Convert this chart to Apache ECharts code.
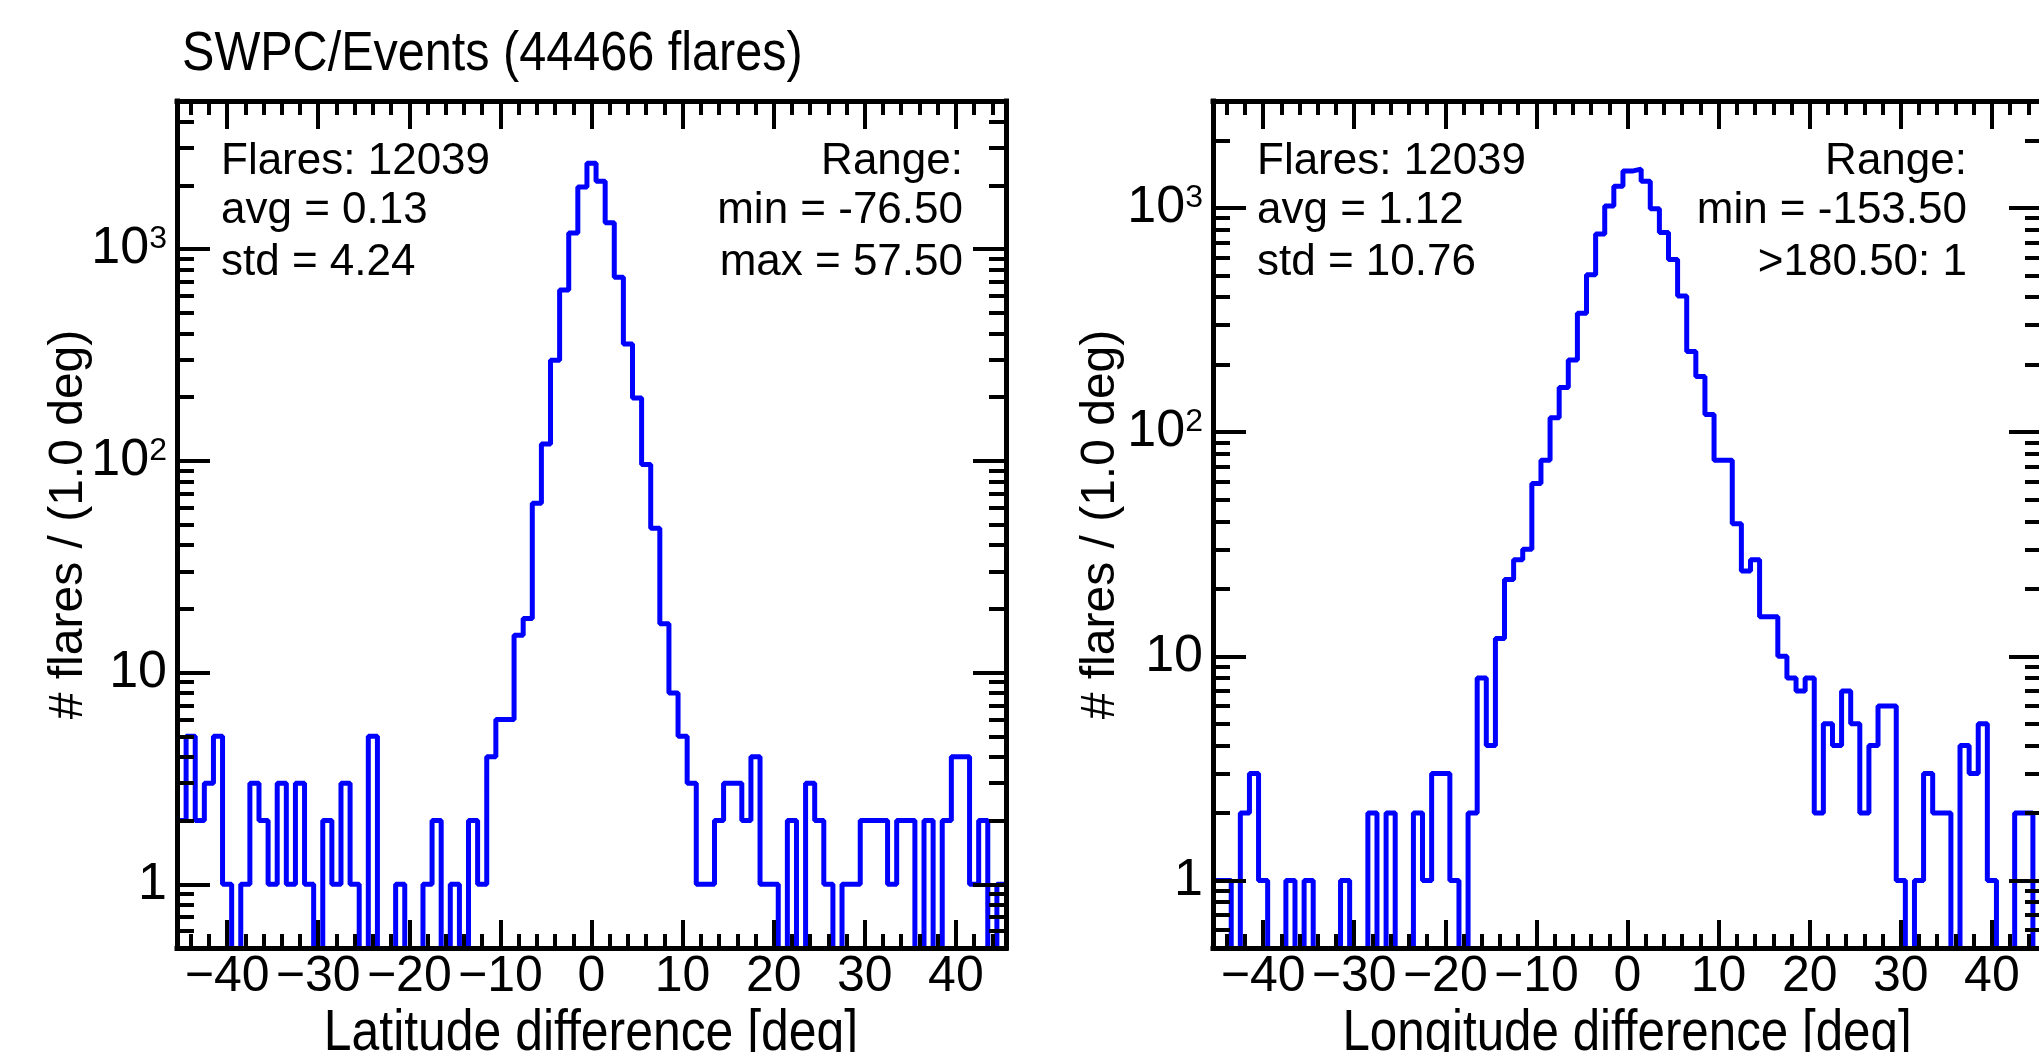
<!DOCTYPE html>
<html lang="en">
<head>
<meta charset="UTF-8" />
<title>SWPC/Events flare position differences</title>
<script src="https://cdn.jsdelivr.net/npm/echarts@6.0.0/dist/echarts.min.js"></script>
<style>
  * { margin: 0; padding: 0; }
  html, body { height: 100%; background: #fff; }
</style>
</head>
<body>
<div id="main" style="width:2039px;height:1052px;"></div>
<script>
// bin centres, 1 deg bins
var binCenters = [-45,-44,-43,-42,-41,-40,-39,-38,-37,-36,-35,-34,-33,-32,-31,-30,-29,-28,-27,-26,
  -25,-24,-23,-22,-21,-20,-19,-18,-17,-16,-15,-14,-13,-12,-11,-10,-9,-8,-7,-6,-5,-4,-3,-2,-1,
  0,1,2,3,4,5,6,7,8,9,10,11,12,13,14,15,16,17,18,19,20,21,22,23,24,25,26,27,28,29,30,
  31,32,33,34,35,36,37,38,39,40,41,42,43,44,45];

// flares per bin, latitude difference
var latCounts = [2,5,2,3,5,1,0,1,3,2, 1,3,1,3,1,0,2,1,3,1, 0,5,0,0,1,0,0,1,2,0,
  1,0,2,1,4,6,6,15,18,63, 120,298,640,1190,1960,
  2540,
  2090,1330,735,356,198,96,48,17,8,5, 3,1,1,2,3,3,2,4,1,1, 0,2,0,3,2,1,0,1,1,2,
  2,2,1,2,2,0,2,0,2,4, 4,1,2,0,1];

// flares per bin, longitude difference
var lonCounts = [1,1,0,2,3,1,0,0,1,0, 1,0,0,0,1,0,0,2,0,2, 0,0,2,1,3,3,1,0,2,8,
  4,12,22,27,30,59,75,116,158,210, 339,504,765,1020,1250,
  1460,
  1490,1316,993,778,589,405,229,177,120,75, 75,39,24,27,15,15,10,8,7,8, 2,5,4,7,5,2,4,6,6,1,
  0,1,3,2,2,0,4,3,5,1, 0,0,2,2,0];

var xMajorTicks = [-40,-30,-20,-10,0,10,20,30,40];
var xMinorTicks = [-44,-42,-38,-36,-34,-32,-28,-26,-24,-22,-18,-16,-14,-12,-8,-6,-4,-2,
  2,4,6,8,12,14,16,18,22,24,26,28,32,34,36,38,42,44];
var yMajorTicks = [1,10,100,1000];
var yMinorTicks = [0.6,0.7,0.8,0.9,2,3,4,5,6,7,8,9,20,30,40,50,60,70,80,90,
  200,300,400,500,600,700,800,900,2000,3000,4000,5000];

var latStats = ['Flares: 12039', 'avg = 0.13', 'std = 4.24'];
var latRange = ['Range:', 'min = -76.50', 'max = 57.50'];
var lonStats = ['Flares: 12039', 'avg = 1.12', 'std = 10.76'];
var lonRange = ['Range:', 'min = -153.50', '>180.50: 1'];

var FONT = '"Liberation Sans", Arial, sans-serif';

// empty bins are pushed below the axis floor so the step drops out of the frame
function stepData(counts) {
  var pts = [];
  for (var i = 0; i < binCenters.length; i++) {
    pts.push([binCenters[i] - 0.5, counts[i] > 0 ? counts[i] : 0.05]);
  }
  var last = binCenters.length - 1;
  pts.push([binCenters[last] + 0.5, counts[last] > 0 ? counts[last] : 0.05]);
  return pts;
}

function fmtX(v) {
  return v < 0 ? '\u2212' + Math.abs(v) : String(v);
}
function fmtY(v) {
  var e = Math.round(Math.log(v) / Math.LN10);
  if (e === 0) return '{b|1}';
  if (e === 1) return '{b|10}';
  return '{b|10}{s|' + e + '}';
}

var frameLine = { color: '#000', width: 5, cap: 'square' };
var tickLine = { color: '#000', width: 4 };

function makeXAxes(gi) {
  function ax(o) {
    return Object.assign({
      gridIndex: gi, type: 'value', min: -45.5, max: 45.5,
      splitLine: { show: false }, z: 5, silent: true
    }, o);
  }
  return [
    ax({
      position: 'bottom',
      axisLine: { onZero: false, lineStyle: frameLine },
      axisTick: { inside: true, length: 28, customValues: xMajorTicks, lineStyle: tickLine },
      axisLabel: { customValues: xMajorTicks, formatter: fmtX, fontFamily: FONT,
        fontSize: 50, color: '#000', margin: 4 }
    }),
    ax({
      position: 'bottom', axisLine: { show: false, onZero: false },
      axisTick: { inside: true, length: 14, customValues: xMinorTicks, lineStyle: tickLine },
      axisLabel: { show: false }
    }),
    ax({
      position: 'top', axisLine: { onZero: false, lineStyle: frameLine },
      axisTick: { inside: true, length: 28, customValues: xMajorTicks, lineStyle: tickLine },
      axisLabel: { show: false }
    }),
    ax({
      position: 'top', axisLine: { show: false, onZero: false },
      axisTick: { inside: true, length: 14, customValues: xMinorTicks, lineStyle: tickLine },
      axisLabel: { show: false }
    })
  ];
}

function makeYAxes(gi, max, nameGap) {
  function ax(o) {
    return Object.assign({
      gridIndex: gi, type: 'log', logBase: 10, min: 0.5, max: max,
      splitLine: { show: false }, z: 5, silent: true
    }, o);
  }
  return [
    ax({
      position: 'left', name: '# flares / (1.0 deg)', nameLocation: 'middle', nameGap: nameGap,
      nameMoveOverlap: false,
      nameTextStyle: { fontFamily: FONT, fontSize: 48, color: '#000' },
      axisLine: { onZero: false, lineStyle: frameLine },
      axisTick: { inside: true, length: 33, customValues: yMajorTicks, lineStyle: tickLine },
      axisLabel: {
        customValues: yMajorTicks, formatter: fmtY, margin: 10,
        rich: {
          b: { fontFamily: FONT, fontSize: 52, color: '#000' },
          s: { fontFamily: FONT, fontSize: 32, color: '#000', verticalAlign: 'top' }
        }
      }
    }),
    ax({
      position: 'left', axisLine: { show: false, onZero: false },
      axisTick: { inside: true, length: 17, customValues: yMinorTicks, lineStyle: tickLine },
      axisLabel: { show: false }
    }),
    ax({
      position: 'right', axisLine: { onZero: false, lineStyle: frameLine },
      axisTick: { inside: true, length: 33, customValues: yMajorTicks, lineStyle: tickLine },
      axisLabel: { show: false }
    }),
    ax({
      position: 'right', axisLine: { show: false, onZero: false },
      axisTick: { inside: true, length: 17, customValues: yMinorTicks, lineStyle: tickLine },
      axisLabel: { show: false }
    })
  ];
}

function textBlock(lines, x, align) {
  var rows = [162, 211, 263];
  return lines.map(function (t, i) {
    return {
      type: 'text', x: x, y: rows[i], z: 10,
      style: { text: t, fontFamily: FONT, fontSize: 44, fill: '#000',
        align: align, verticalAlign: 'middle' }
    };
  });
}

// condensed (horizontally squeezed) text like the PostScript original
function squeezed(text, x, y, size, align, sx) {
  return {
    type: 'text', x: x, y: y, scaleX: sx, z: 10,
    style: { text: text, fontFamily: FONT, fontSize: size, fill: '#000',
      align: align, verticalAlign: 'middle' }
  };
}

var chart = echarts.init(document.getElementById('main'));

var option = {
  backgroundColor: '#fff',
  animation: false,
  grid: [
    { left: 177, top: 101, width: 829, height: 847, outerBoundsMode: 'none', containLabel: false },
    { left: 1213, top: 101, width: 829, height: 847, outerBoundsMode: 'none', containLabel: false }
  ],
  xAxis: makeXAxes(0).concat(makeXAxes(1)),
  yAxis: makeYAxes(0, 5000, 84).concat(makeYAxes(1, 3000, 88)),
  series: [
    {
      type: 'line', xAxisIndex: 0, yAxisIndex: 0, step: 'end',
      showSymbol: false, symbol: 'none', data: stepData(latCounts),
      lineStyle: { color: '#0000ff', width: 5 }, z: 2
    },
    {
      type: 'line', xAxisIndex: 4, yAxisIndex: 4, step: 'end',
      showSymbol: false, symbol: 'none', data: stepData(lonCounts),
      lineStyle: { color: '#0000ff', width: 5 }, z: 2
    }
  ],
  graphic: [
    squeezed('SWPC/Events (44466 flares)', 182, 55, 56, 'left', 0.867),
    squeezed('Latitude difference [deg]', 591, 1034, 58, 'center', 0.86),
    squeezed('Longitude difference [deg]', 1627, 1034, 58, 'center', 0.85)
  ].concat(textBlock(latStats, 221, 'left'), textBlock(latRange, 963, 'right'),
    textBlock(lonStats, 1257, 'left'), textBlock(lonRange, 1967, 'right'))
};

chart.setOption(option);
</script>
</body>
</html>
